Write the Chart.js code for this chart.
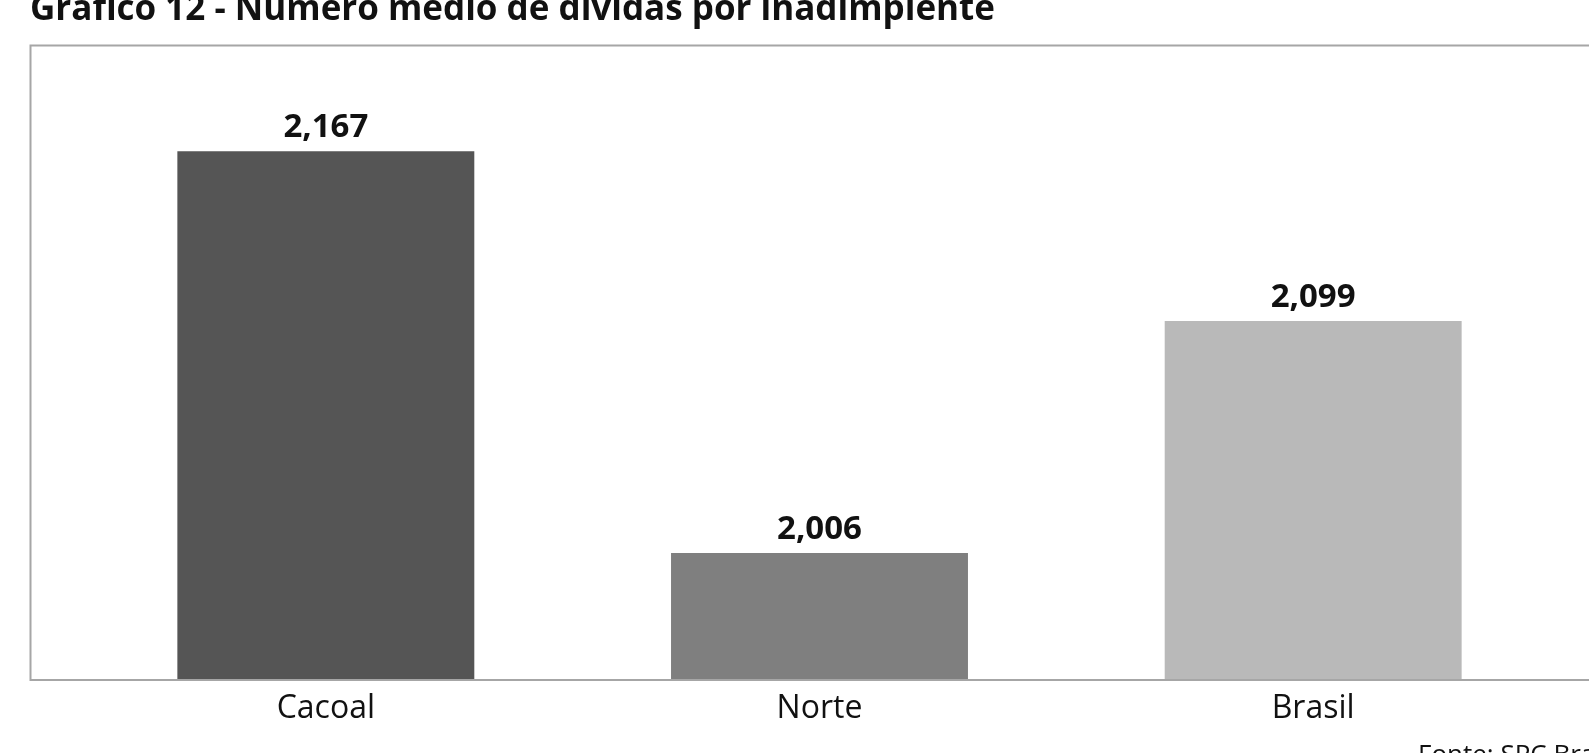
<!DOCTYPE html>
<html>
<head>
<meta charset="utf-8">
<script src="https://cdn.jsdelivr.net/npm/chart.js@4/dist/chart.umd.min.js"></script>
<style>
  body { margin: 0; background: #fff; overflow: hidden; }
  #wrap { position: relative; width: 1589px; height: 753px; }
  #title {
    position: absolute; left: 30px; top: -11px;
    font: bold 35px/35px "Open Sans", sans-serif; color: #111; white-space: nowrap;
  }
  #source {
    position: absolute; left: 1418px; top: 740px;
    font: 26px/26px "Open Sans", sans-serif; color: #111; white-space: nowrap;
  }
  canvas { position: absolute; left: 0; top: 0; }
</style>
</head>
<body>
<div id="wrap">
  <canvas id="bars" width="1589" height="753"></canvas>
  <div id="title">Gráfico 12 - Número médio de dívidas por inadimplente</div>
  <div id="source">Fonte: SPC Brasil</div>
</div>
<script>
// data
const categories = ["Cacoal", "Norte", "Brasil"];
const values = [2.167, 2.006, 2.099];
const barColors = ["#555555", "#7f7f7f", "#b9b9b9"];

// plot-area border, like the excel frame
const framePlugin = {
  id: "frame",
  beforeDraw(chart) {
    const { ctx, chartArea } = chart;
    ctx.save();
    ctx.strokeStyle = "#a6a6a6";
    ctx.lineWidth = 2;
    ctx.strokeRect(30.5, chartArea.top + 0.5, 1700, chartArea.bottom - chartArea.top + 0.5);
    ctx.restore();
  }
};

// value labels above bars (comma decimal)
const valueLabels = {
  id: "valueLabels",
  afterDatasetsDraw(chart) {
    const { ctx } = chart;
    const meta = chart.getDatasetMeta(0);
    ctx.save();
    ctx.font = "bold 33px 'Open Sans', sans-serif";
    ctx.fillStyle = "#111";
    ctx.textAlign = "center";
    ctx.textBaseline = "alphabetic";
    meta.data.forEach((bar, i) => {
      const txt = values[i].toFixed(3).replace(".", ",");
      ctx.fillText(txt, bar.x, bar.y - 14);
    });
    ctx.restore();
  }
};

new Chart(document.getElementById("bars"), {
  type: "bar",
  data: {
    labels: categories,
    datasets: [{
      data: values,
      backgroundColor: barColors,
      borderWidth: 0,
      categoryPercentage: 1,
      barPercentage: 0.6015
    }]
  },
  options: {
    responsive: false,
    animation: false,
    layout: { padding: { left: 79, right: 29, top: 45, bottom: 0 } },
    plugins: { legend: { display: false }, tooltip: { enabled: false } },
    scales: {
      x: {
        grid: { display: false, drawTicks: false },
        border: { display: false },
        ticks: {
          color: "#111",
          padding: 11,
          font: { family: "'Open Sans', sans-serif", size: 32 }
        },
        afterFit(scale) { scale.height = 74; }
      },
      y: {
        display: false,
        min: 1.9555,
        max: 2.2096
      }
    }
  },
  plugins: [framePlugin, valueLabels]
});
</script>
</body>
</html>
